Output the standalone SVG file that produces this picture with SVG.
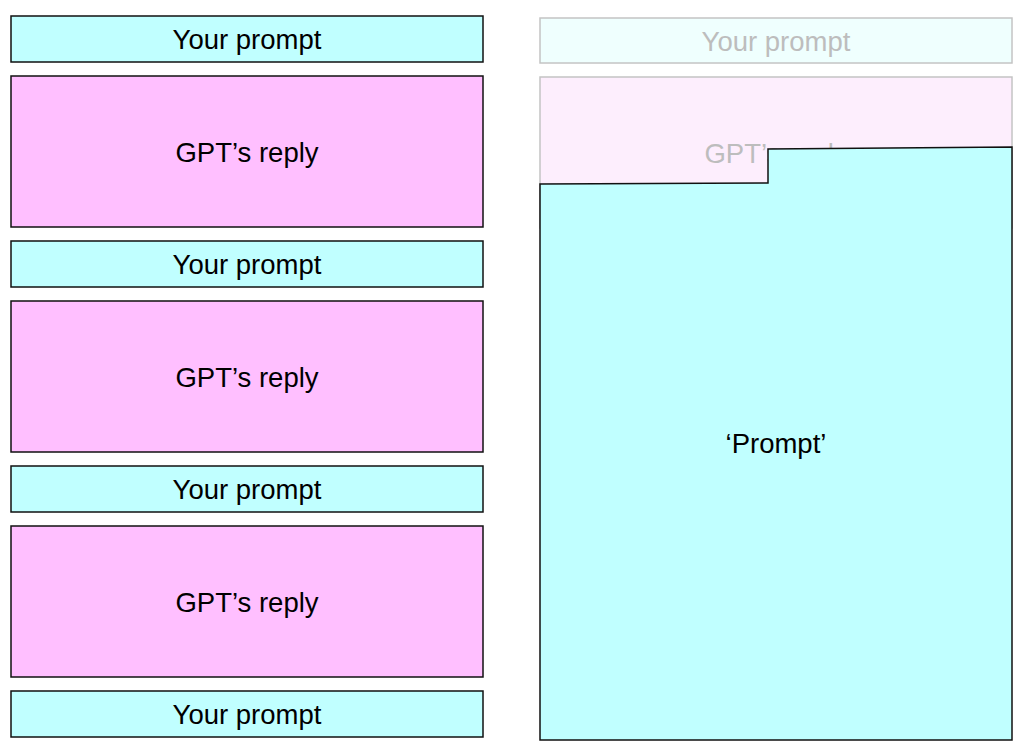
<svg xmlns="http://www.w3.org/2000/svg" width="1024" height="753" viewBox="0 0 1024 753">
<style>
.p{fill:#c0ffff;stroke:#111;stroke-width:1.5}
.r{fill:#ffbfff;stroke:#111;stroke-width:1.5}
.fp{fill:#effffe;stroke:#c4c4c4;stroke-width:1.5}
.fr{fill:#fdeefd;stroke:#c4c4c4;stroke-width:1.5}
.t{font-family:"Liberation Sans",Arial,sans-serif;font-size:27.5px;text-anchor:middle;fill:#000}
.ft{font-family:"Liberation Sans",Arial,sans-serif;font-size:27.5px;text-anchor:middle;fill:#bdbdbd}
</style>
<rect width="1024" height="753" fill="#fff"/>
<g id="prompt1"><rect class="p" x="11" y="16" width="472" height="46"/><text class="t" x="247" y="49">Your prompt</text></g>
<g id="reply1"><rect class="r" x="11" y="76" width="472" height="151"/><text class="t" x="247" y="162">GPT’s reply</text></g>
<g id="prompt2"><rect class="p" x="11" y="241" width="472" height="46"/><text class="t" x="247" y="274">Your prompt</text></g>
<g id="reply2"><rect class="r" x="11" y="301" width="472" height="151"/><text class="t" x="247" y="387">GPT’s reply</text></g>
<g id="prompt3"><rect class="p" x="11" y="466" width="472" height="46"/><text class="t" x="247" y="499">Your prompt</text></g>
<g id="reply3"><rect class="r" x="11" y="526" width="472" height="151"/><text class="t" x="247" y="612">GPT’s reply</text></g>
<g id="prompt4"><rect class="p" x="11" y="691" width="472" height="46"/><text class="t" x="247" y="724">Your prompt</text></g>
<g id="faded-prompt"><rect class="fp" x="540" y="18" width="472" height="45"/><text class="ft" x="776" y="51">Your prompt</text></g>
<g id="faded-reply"><rect class="fr" x="540" y="77" width="472" height="151"/><text class="ft" x="776" y="163">GPT’s reply</text></g>
<g id="big-prompt"><path class="p" d="M540,184 L768,183 L768,149 L1012,147 L1012,740 L540,740 Z"/><text class="t" x="776" y="453">‘Prompt’</text></g>
<g id="connectors"></g>
</svg>
